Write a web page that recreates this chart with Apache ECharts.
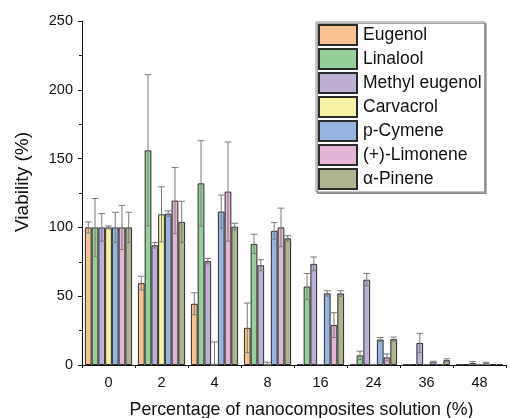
<!DOCTYPE html>
<html>
<head>
<meta charset="utf-8">
<title>Viability vs. nanocomposite concentration</title>
<script src="https://cdn.jsdelivr.net/npm/echarts@6/dist/echarts.min.js"></script>
<style>
  html, body { margin: 0; padding: 0; background: #ffffff; }
  #chart { width: 510px; height: 418px; }
</style>
</head>
<body>
<div id="chart"></div>
<script>
// Concentration groups (% of nanocomposite solution)
const categories = ['0', '2', '4', '8', '16', '24', '36', '48'];

// Essential oil components
const names = ['Eugenol', 'Linalool', 'Methyl eugenol', 'Carvacrol', 'p-Cymene', '(+)-Limonene', 'α-Pinene'];
const colors = ['#F8C292', '#95D09B', '#BEB0D5', '#F6F2A3', '#95B5DF', '#E5B5D6', '#AEB48F'];

// Mean viability (%) per concentration
const eugenol       = [100, 59.5, 44.5, 27,   0.5, 0.3,  0.3, 0.3];
const linalool      = [100, 156,  132,  88,   57,  7,    0.5, 0.6];
const methylEugenol = [100, 87,   75.5, 72.5, 73.5, 62,  16,  1.5];
const carvacrol     = [100, 109.5, 0.8, 0.5,  0,   0,    0,   0];
const pCymene       = [100, 110,  111.5, 97.5, 52, 18.5, 2.2, 1.2];
const limonene      = [100, 119.5, 126, 100,  29,  5.5,  0.3, 0.5];
const alphaPinene   = [100, 104,  100.5, 92,  52,  18.8, 3.5, 0.5];

// Standard deviation (%) per concentration
const eugenolSD       = [4,  5,  8,  18,  0,   0,   0,   0];
const linaloolSD      = [21, 55, 31, 7,   9.5, 3,   0,   0];
const methylEugenolSD = [10, 2,  2,  4,   5,   4.5, 7,   1];
const carvacrolSD     = [1,  20, 16, 1.5, 0,   0,   0,   0];
const pCymeneSD       = [11, 2,  12, 6,   2,   1.5, 0.5, 0.8];
const limoneneSD      = [16, 24, 36, 14,  9,   2.5, 0,   0];
const alphaPineneSD   = [11, 15, 2.5, 2,  2,   1.5, 1,   0];

// Y axis ticks
const yTicks = [0, 50, 100, 150, 200, 250];

const means = [eugenol, linalool, methylEugenol, carvacrol, pCymene, limonene, alphaPinene];
const sds = [eugenolSD, linaloolSD, methylEugenolSD, carvacrolSD, pCymeneSD, limoneneSD, alphaPineneSD];

const GAP = 0.11;           // category gap fraction
const N = names.length;

function barSeries(idx) {
  return {
    type: 'bar',
    name: names[idx],
    data: means[idx],
    barGap: '0%',
    barCategoryGap: (GAP * 100) + '%',
    itemStyle: { color: colors[idx], borderColor: '#2b2b2b', borderWidth: 1 },
    emphasis: { disabled: true },
    z: 2
  };
}

// Error bars, placed on the same slot as the matching bar in each group
function errorSeries(idx) {
  const stroke = { stroke: '#7a7a7a', lineWidth: 1 };
  return {
    type: 'custom',
    name: names[idx] + ' SD',
    silent: true,
    z: 5,
    data: means[idx].map((v, i) => [i, v, sds[idx][i]]),
    encode: { x: 0, y: 1 },
    renderItem: function (params, api) {
      const i = api.value(0), v = api.value(1), e = api.value(2);
      if (!e) return null;
      const band = api.size([1, 0])[0];
      const groupW = band * (1 - GAP);
      const bw = groupW / N;
      const c = api.coord([i, v]);
      const x = c[0] - groupW / 2 + bw * (idx + 0.5);
      const top = api.coord([i, v + e])[1];
      const bot = api.coord([i, Math.max(v - e, 0)])[1];
      const h = bw / 2;
      return {
        type: 'group',
        children: [
          { type: 'line', shape: { x1: x, y1: top, x2: x, y2: bot }, style: stroke },
          { type: 'line', shape: { x1: x - h, y1: top, x2: x + h, y2: top }, style: stroke },
          { type: 'line', shape: { x1: x - h, y1: bot, x2: x + h, y2: bot }, style: stroke }
        ]
      };
    }
  };
}

const series = [];
for (let k = 0; k < N; k++) series.push(barSeries(k));
for (let k = 0; k < N; k++) series.push(errorSeries(k));

const chart = echarts.init(document.getElementById('chart'), null, { renderer: 'canvas' });
const fontFamily = '"Liberation Sans", Arial, sans-serif';

chart.setOption({
  animation: false,
  backgroundColor: '#ffffff',
  textStyle: { fontFamily: fontFamily },
  grid: { left: 82, right: 4, top: 21, bottom: 53, containLabel: false, outerBoundsMode: 'none' },
  legend: {
    data: names,
    orient: 'vertical',
    left: 316,
    top: 22,
    icon: 'rect',
    itemWidth: 38,
    itemHeight: 20,
    itemGap: 2,
    padding: [2, 3, 2, 2],
    borderColor: '#8a8a8a',
    borderWidth: 1,
    backgroundColor: '#ffffff',
    shadowColor: 'rgba(0,0,0,0.35)',
    shadowOffsetX: 1.5,
    shadowOffsetY: 1.5,
    shadowBlur: 0,
    selectedMode: false,
    textStyle: { fontSize: 17.5, color: '#111', fontFamily: fontFamily, padding: [0, 0, 0, 1] }
  },
  xAxis: [
    {
      type: 'category',
      data: categories,
      name: 'Percentage of nanocomposites solution (%)',
      nameLocation: 'middle',
      nameGap: 36,
      nameTextStyle: { fontSize: 17.8, color: '#111', padding: [0, 0, 0, 15] },
      axisLine: { lineStyle: { color: '#111', width: 1 } },
      axisTick: { alignWithLabel: true, length: 4, lineStyle: { color: '#111' } },
      axisLabel: { fontSize: 14.5, color: '#111', margin: 10 },
      splitLine: { show: false }
    },
    {
      // boundary ticks between groups
      type: 'category',
      data: categories,
      position: 'bottom',
      axisLine: { show: false },
      axisTick: { show: true, length: 3, lineStyle: { color: '#111' } },
      axisLabel: { show: false },
      splitLine: { show: false }
    }
  ],
  yAxis: {
    type: 'value',
    min: yTicks[0],
    max: yTicks[yTicks.length - 1],
    interval: 50,
    name: 'Viability (%)',
    nameLocation: 'middle',
    nameGap: 50,
    nameTextStyle: { fontSize: 19, color: '#111', padding: [0, 0, 0, 22] },
    axisLine: { show: true, lineStyle: { color: '#111', width: 1 } },
    axisTick: { show: true, length: 4, lineStyle: { color: '#111' } },
    minorTick: { show: true, splitNumber: 2, length: 3, lineStyle: { color: '#111' } },
    axisLabel: { fontSize: 14.5, color: '#111', margin: 9 },
    splitLine: { show: false }
  },
  series: series
});
</script>
</body>
</html>
